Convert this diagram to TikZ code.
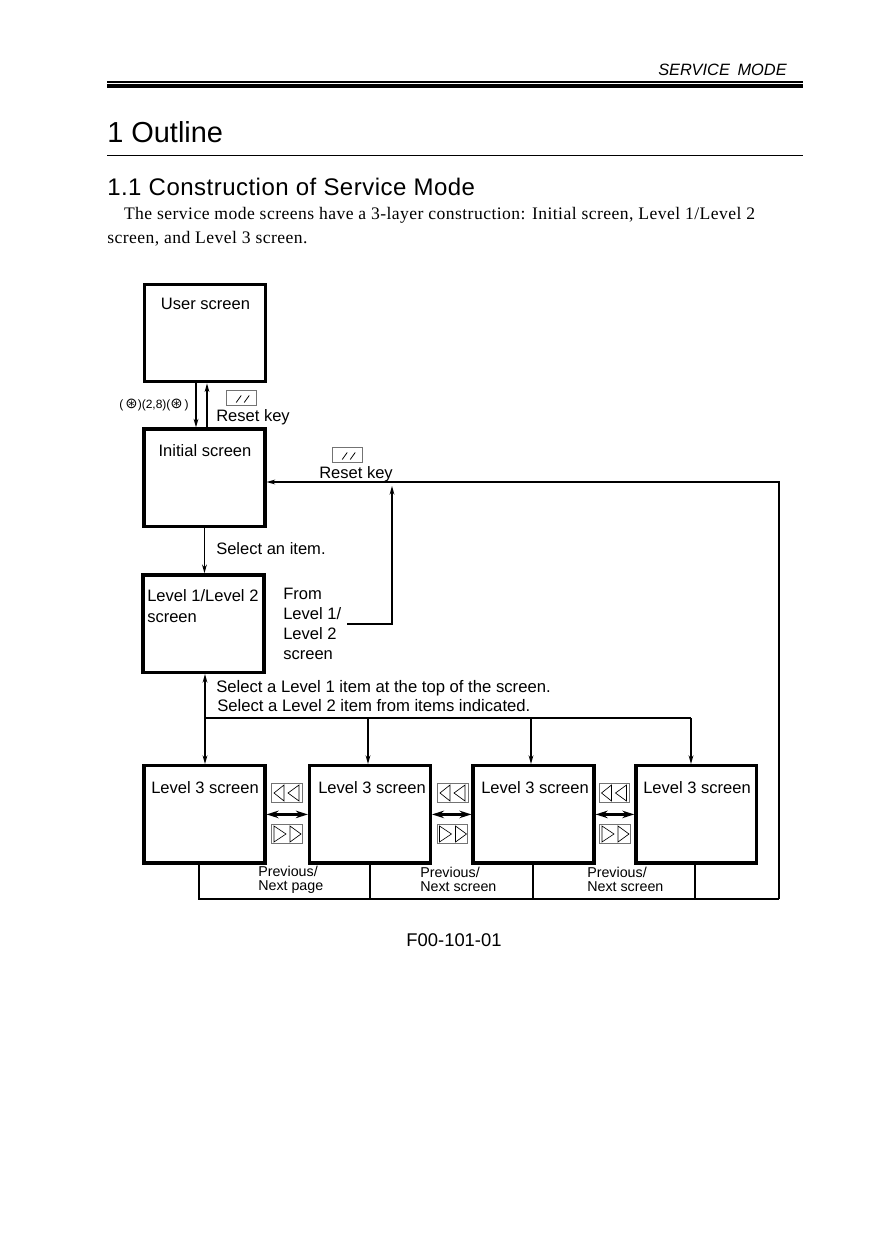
\documentclass[tikz,border=0pt]{standalone}
\usepackage{fontspec}
\setmainfont{Liberation Sans}
\newfontfamily\bodyfont[LetterSpace=2.5]{Liberation Serif}
\newfontfamily\spacedfont[LetterSpace=2]{Liberation Sans}
\newfontfamily\fanfont{DejaVu Sans}
\usetikzlibrary{arrows.meta,positioning}

\begin{document}
\begin{tikzpicture}[x=0.75pt, y=-0.75pt, >={Stealth[length=6.5pt, width=3.6pt]},
  screen/.style={draw, line width=2.6pt, minimum width=90.5pt, minimum height=73pt,
    inner sep=0pt},
  lbl/.style={anchor=west, inner sep=0pt, align=left, font=\fontsize{12.4}{15}\selectfont},
  small/.style={anchor=west, inner sep=0pt, align=left, font=\fontsize{10.7}{10.8}\selectfont},
  link/.style={line width=1pt},
  pagebtn/.style={link, line width=1.9pt, <->, >={Stealth[length=9pt, width=5.6pt]}},
  keyframe/.style={draw=black!55, line width=0.8pt, fill=white, inner sep=0pt,
    minimum width=23pt, minimum height=14.5pt},
  resetframe/.style={keyframe, minimum width=22.5pt, minimum height=11.5pt},
  prevmarks/.pic={\draw[line width=0.5pt] (-13,0) -- (-3,-8) -- (-3,8) -- cycle
    (1,0) -- (12,-8) -- (12,8) -- cycle;},
  nextmarks/.pic={\draw[line width=0.5pt] (-13,-8) -- (-13,8) -- (-1,0) -- cycle
    (3,-8) -- (3,8) -- (14,0) -- cycle;},
  resetmarks/.pic={\draw[line width=0.6pt] (-5.5,4.5) -- (-0.5,-2.5) (2.5,4.5) -- (7.5,-2.5);}]
  \useasboundingbox[fill=white] (0,0) rectangle (875,1240);

  % page head
  \node[anchor=east, inner sep=0pt, font=\fontsize{12.3}{15}\selectfont\itshape] (head) at (787,70) {SERVICE\hspace{2.25pt} MODE};
  \coordinate (ruleL) at (107,82);
  \coordinate (ruleR) at (803,82);
  \draw[line width=0.8pt] (ruleL) -- (ruleR);
  \draw[line width=3pt] ([yshift=-3pt]ruleL) -- ([yshift=-3pt]ruleR);
  \node[anchor=west, inner sep=0pt, font=\fontsize{21.7}{26}\selectfont] (title) at (107,132) {1 Outline};
  \coordinate (titleL) at (107,155);
  \coordinate (titleR) at (803,155);
  \draw[line width=0.75pt] (titleL) -- (titleR);
  \node[anchor=west, inner sep=0pt, font=\spacedfont\fontsize{18}{20}\selectfont] (subtitle) at (107,187) {1.1 Construction of Service Mode};
  \node[anchor=west, inner sep=0pt, align=left, font=\bodyfont\fontsize{13.2}{18.2}\selectfont] (intro) at (107,227)
    {\hspace{12.6pt}The service mode screens have a 3-layer construction: Initial screen, Level 1/Level 2\\
     screen, and Level 3 screen.};

  % screens
  \node[screen] (user) at (205,333) {};
  \node[screen, below=33pt of user, xshift=-0.4pt] (initial) {};
  \node[screen, below=33.75pt of initial, xshift=-0.75pt] (level12) {};
  \node[screen, below=67.5pt of level12, xshift=0.75pt] (level3a) {};
  \node[screen, right=31pt of level3a] (level3b) {};
  \node[screen, right=29.6pt of level3b] (level3c) {};
  \node[screen, right=29pt of level3c] (level3d) {};

  \node[lbl, anchor=center] (usertxt) at (205.5,304) {User screen};
  \node[lbl, anchor=center] (initialtxt) at (205,451) {Initial screen};
  \node[lbl, font=\fontsize{12.4}{15.4}\selectfont] (level12txt) at (147,606) {Level 1/Level 2\\screen};
  \node[lbl] (txta) at (151,788) {Level 3 screen};
  \node[lbl] (txtb) at (318,788) {Level 3 screen};
  \node[lbl] (txtc) at (481,788) {Level 3 screen};
  \node[lbl] (txtd) at (643,788) {Level 3 screen};

  % user <-> initial
  \coordinate (enter) at (196,0);
  \coordinate (leave) at (207,0);
  \draw[link, ->] (enter |- user.south) -- (enter |- initial.north);
  \draw[link, ->] (leave |- initial.north) -- (leave |- user.south);
  \node[anchor=east, inner sep=0pt, font=\fontsize{9}{10}\selectfont] (fankeys) at (189,405)
    {(\,{\fanfont\fontsize{11}{10}\selectfont ⊛})(2,8)({\fanfont\fontsize{11}{10}\selectfont ⊛}\,)};
  \node[resetframe] (reseta) at (241.7,398) {};
  \pic at (reseta) {resetmarks};
  \node[lbl] (resetatxt) at (216,417) {Reset key};
  \node[resetframe] (resetb) at (347.7,455) {};
  \pic at (resetb) {resetmarks};
  \node[lbl] (resetbtxt) at (319,474) {Reset key};

  % initial -> level 1/2
  \draw[link, ->] (initial.south) -- (initial.south |- level12.north);
  \node[lbl] (selecttxt) at (216,548.5) {Select an item.};
  \node[lbl] (fromtxt) at (283,623.5) {From\\Level 1/\\Level 2\\screen};
  \coordinate (fromout) at (347,624);
  \coordinate (fromup) at (392,486);
  \draw[link, ->] (fromout) -| (fromup);

  % level 1/2 -> level 3
  \coordinate (trunk) at (205,718);
  \coordinate (busb) at (368,718);
  \coordinate (busc) at (531,718);
  \coordinate (busd) at (691,718);
  \draw[link, <->] (trunk |- level12.south) -- (trunk |- level3a.north);
  \draw[link] (trunk) -- (busd);
  \draw[link, ->] (busb) -- (busb |- level3b.north);
  \draw[link, ->] (busc) -- (busc |- level3c.north);
  \draw[link, ->] (busd) -- (busd |- level3d.north);
  \node[lbl, font=\fontsize{12.5}{15}\selectfont] (toptxt) at (216,688.5) {Select a Level 1 item at the top of the screen.};
  \node[lbl, font=\fontsize{12.5}{15}\selectfont] (itemtxt) at (217,705.5) {Select a Level 2 item from items indicated.};

  % paging between level 3 screens
  \draw[pagebtn] (level3a.east) -- (level3b.west);
  \draw[pagebtn] (level3b.east) -- (level3c.west);
  \draw[pagebtn] (level3c.east) -- (level3d.west);
  \foreach \i/\px/\nx in {a/287/287, b/453/452.5, c/614.5/615}{
    \node[keyframe] (prev\i) at (\px,793) {};
    \pic at (prev\i) {prevmarks};
    \node[keyframe] (next\i) at (\nx,834) {};
    \pic at (next\i) {nextmarks};
  }
  \node[small] (pagetxt) at (258,879.5) {Previous/\\Next page};
  \node[small] (scrbtxt) at (420,879.5) {Previous/\\Next screen};
  \node[small] (scrctxt) at (587,879.5) {Previous/\\Next screen};

  % way back to the initial screen
  \coordinate (backa) at (199,899);
  \coordinate (backb) at (370,899);
  \coordinate (backc) at (533,899);
  \coordinate (backd) at (695,899);
  \coordinate (backend) at (779,899);
  \coordinate (backtop) at (779,482);
  \draw[link] (backa |- level3a.south) -- (backa) -- (backend);
  \draw[link] (backb |- level3b.south) -- (backb);
  \draw[link] (backc |- level3c.south) -- (backc);
  \draw[link] (backd |- level3d.south) -- (backd);
  \draw[link, ->] (backend) -- (backtop) -- (backtop -| initial.east);

  \node[anchor=center, inner sep=0pt, font=\fontsize{13.8}{15}\selectfont] (figno) at (454,940) {F00-101-01};
\end{tikzpicture}
\end{document}
